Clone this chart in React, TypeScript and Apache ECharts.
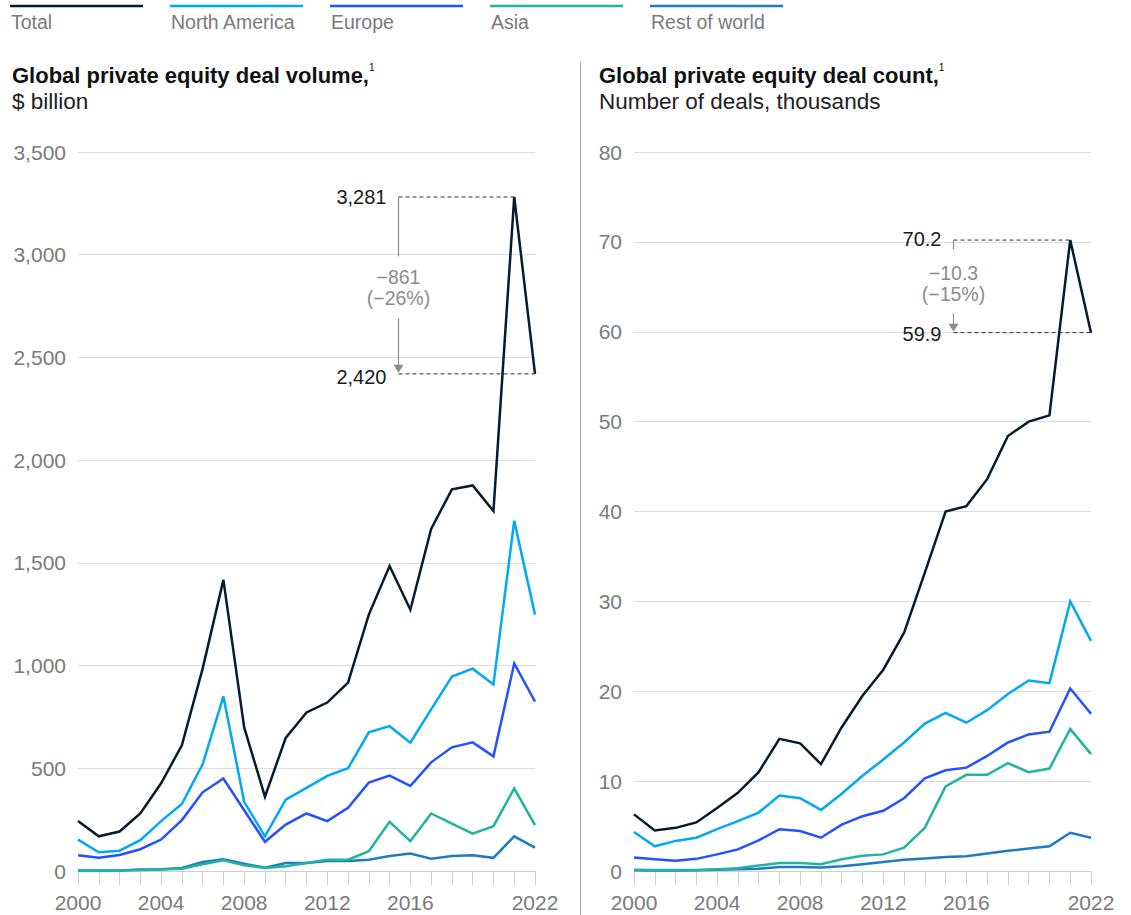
import React, { useEffect, useRef } from "react";
import * as echarts from "echarts";

const years = ["2000","2001","2002","2003","2004","2005","2006","2007","2008","2009","2010","2011","2012","2013","2014","2015","2016","2017","2018","2019","2020","2021","2022"];
const labeledYears = ["2000","2004","2008","2012","2016","2022"];
const seriesNames = ["Total","North America","Europe","Asia","Rest of world"];
const seriesColors = ["#051c2c","#00a9f4","#2251ff","#1fb3a0","#1f7bc1"];

// Deal volume, $ billion
const volTotal = [243,169,192,280,427,612,985,1417,699,362,648,772,820,917,1248,1485,1272,1665,1858,1877,1752,3281,2420];
const volNA = [153,91,99,150,243,326,519,850,337,169,347,405,463,500,675,705,625,787,947,985,908,1705,1248];
const volEurope = [77,64,78,106,153,248,383,450,296,142,226,280,243,308,430,464,414,529,602,626,558,1010,825];
const volAsia = [3,2,2,5,7,11,33,52,28,15,23,39,55,55,96,239,145,280,231,182,218,402,223];
const volRest = [3,3,3,7,8,15,44,57,36,16,39,39,49,49,55,73,85,60,73,77,64,169,114];

// Deal count, thousands
const cntTotal = [6.3,4.5,4.8,5.4,7.0,8.7,11.0,14.7,14.2,11.9,16.0,19.5,22.4,26.5,33.2,40.0,40.6,43.6,48.4,50.0,50.7,70.2,59.9];
const cntNA = [4.35,2.75,3.35,3.7,4.65,5.55,6.5,8.4,8.1,6.8,8.6,10.6,12.4,14.3,16.4,17.6,16.5,17.9,19.7,21.2,20.9,30.0,25.6];
const cntEurope = [1.5,1.3,1.15,1.35,1.85,2.4,3.4,4.65,4.45,3.7,5.15,6.1,6.7,8.1,10.3,11.2,11.5,12.8,14.3,15.2,15.5,20.3,17.5];
const cntAsia = [0.15,0.1,0.1,0.12,0.2,0.3,0.6,0.9,0.9,0.75,1.3,1.7,1.85,2.6,4.8,9.4,10.7,10.7,12.0,11.0,11.4,15.8,13.0];
const cntRest = [0.07,0.05,0.05,0.07,0.15,0.2,0.26,0.45,0.45,0.4,0.52,0.75,1.0,1.25,1.4,1.55,1.65,1.95,2.25,2.5,2.75,4.25,3.7];

const volTitle = "Global private equity deal volume,";
const volSubtitle = "$ billion";
const cntTitle = "Global private equity deal count,";
const cntSubtitle = "Number of deals, thousands";

const volAnnot = { peakIdx: 21, lastIdx: 22, peak: 3281, last: 2420, peakLabel: "3,281", lastLabel: "2,420", change: "\u2212861", pct: "(\u221226%)" };
const cntAnnot = { peakIdx: 21, lastIdx: 22, peak: 70.2, last: 59.9, peakLabel: "70.2", lastLabel: "59.9", change: "\u221210.3", pct: "(\u221215%)" };

const FONT = "'Liberation Sans', Arial, Helvetica, sans-serif";
const GRAY = "#7a7a7a";

export default function App() {
  const ref = useRef<HTMLDivElement>(null);

  useEffect(() => {
    document.body.style.margin = "0";
    const chart = echarts.init(ref.current as HTMLDivElement, null, { renderer: "svg" });

    const makeSeries = (g: number, arrays: number[][]) =>
      arrays.map((d, i) => ({
        type: "line",
        name: seriesNames[i] + (g ? " (count)" : ""),
        xAxisIndex: g,
        yAxisIndex: g,
        data: d,
        symbol: "none",
        silent: true,
        z: 10 - i,
        lineStyle: { width: 2.5, color: seriesColors[i], join: "miter" },
        itemStyle: { color: seriesColors[i] },
      }));

    const xAxis = (g: number) => ({
      type: "category",
      gridIndex: g,
      data: years,
      boundaryGap: false,
      axisLine: { lineStyle: { color: "#cfcfcf", width: 1 } },
      axisTick: { show: true, interval: 0, length: 14, lineStyle: { color: "#cfcfcf" } },
      axisLabel: {
        interval: 0,
        margin: 21,
        color: GRAY,
        fontSize: 21,
        fontFamily: FONT,
        formatter: (v: string) => (labeledYears.includes(v) ? v : ""),
      },
      splitLine: { show: false },
    });

    const yAxis = (g: number, max: number, interval: number) => ({
      type: "value",
      gridIndex: g,
      min: 0,
      max,
      interval,
      axisLine: { show: false },
      axisTick: { show: false },
      splitLine: { lineStyle: { color: "#dcdcdc", width: 1 } },
      axisLabel: {
        margin: 12,
        color: GRAY,
        fontSize: 21,
        fontFamily: FONT,
        formatter: (v: number) => v.toLocaleString("en-US"),
      },
    });

    chart.setOption({
      animation: false,
      textStyle: { fontFamily: FONT },
      grid: [
        { left: 78, right: 596, top: 152, bottom: 44 },
        { left: 634, right: 40, top: 152, bottom: 44 },
      ],
      xAxis: [xAxis(0), xAxis(1)],
      yAxis: [yAxis(0, 3500, 500), yAxis(1, 80, 10)],
      series: [
        ...makeSeries(0, [volRest, volAsia, volEurope, volNA, volTotal].reverse()),
        ...makeSeries(1, [cntRest, cntAsia, cntEurope, cntNA, cntTotal].reverse()),
      ],
    });

    const px = (g: number, x: number, y: number) =>
      chart.convertToPixel({ gridIndex: g } as any, [x, y]) as number[];

    const graphics: any[] = [];

    // legend
    seriesNames.forEach((n, i) => {
      const x0 = 10 + 160 * i;
      graphics.push({
        type: "line",
        shape: { x1: x0, y1: 6, x2: x0 + 133, y2: 6 },
        style: { stroke: seriesColors[i], lineWidth: 2.5 },
        silent: true,
      });
      graphics.push({
        type: "text",
        x: x0 + 1,
        y: 22,
        style: { text: n, fill: GRAY, fontSize: 19.5, fontFamily: FONT, verticalAlign: "middle" },
        silent: true,
      });
    });

    // separator
    graphics.push({
      type: "line",
      shape: { x1: 580.5, y1: 62, x2: 580.5, y2: 915 },
      style: { stroke: "#a8a8a8", lineWidth: 1 },
      silent: true,
    });

    // titles
    const addTitle = (x: number, title: string, sub: string) => {
      graphics.push({
        type: "text",
        x,
        y: 74,
        style: {
          text: "{b|" + title + "}{s|1}",
          verticalAlign: "middle",
          fontFamily: FONT,
          rich: {
            b: { fontSize: 22, fontWeight: "bold", fill: "#111", fontFamily: FONT, lineHeight: 24, verticalAlign: "bottom" },
            s: { fontSize: 10, fill: "#111", fontFamily: FONT, lineHeight: 24, verticalAlign: "top" },
          },
        },
        silent: true,
      });
      graphics.push({
        type: "text",
        x,
        y: 101,
        style: { text: sub, fontSize: 22.5, fill: "#222", fontFamily: FONT, verticalAlign: "middle" },
        silent: true,
      });
    };
    addTitle(12, volTitle, volSubtitle);
    addTitle(599, cntTitle, cntSubtitle);

    // annotations
    const addAnnot = (g: number, a: any, offset: number, cfg: any) => {
      const [xPk, yTop] = px(g, a.peakIdx, a.peak);
      const [xEnd, yBot] = px(g, a.lastIdx, a.last);
      const ax = Math.round(xPk - offset) + 0.5;
      const mid = (yTop + yBot) / 2;
      const dash = { stroke: "#333", lineWidth: 1, lineDash: [4, 3] };
      const solid = { stroke: "#8c8c8c", lineWidth: 1.2 };
      graphics.push({ type: "line", shape: { x1: ax, y1: yTop, x2: xPk, y2: yTop }, style: dash, silent: true });
      graphics.push({ type: "line", shape: { x1: ax, y1: yBot, x2: xEnd, y2: yBot }, style: dash, silent: true });
      graphics.push({
        type: "text", x: ax - 12, y: yTop + cfg.topLblDy,
        style: { text: a.peakLabel, fill: "#1a1a1a", fontSize: 20, fontFamily: FONT, align: "right", verticalAlign: "middle" }, silent: true,
      });
      graphics.push({
        type: "text", x: ax - 12, y: yBot + cfg.botLblDy,
        style: { text: a.lastLabel, fill: "#1a1a1a", fontSize: 20, fontFamily: FONT, align: "right", verticalAlign: "middle" }, silent: true,
      });
      graphics.push({ type: "line", shape: { x1: ax, y1: yTop, x2: ax, y2: mid + cfg.upEnd }, style: solid, silent: true });
      graphics.push({
        type: "text", x: ax, y: mid + cfg.t1,
        style: { text: a.change, fill: "#8c8c8c", fontSize: 19.5, fontFamily: FONT, align: "center", verticalAlign: "middle" }, silent: true,
      });
      graphics.push({
        type: "text", x: ax, y: mid + cfg.t2,
        style: { text: a.pct, fill: "#8c8c8c", fontSize: 19.5, fontFamily: FONT, align: "center", verticalAlign: "middle" }, silent: true,
      });
      graphics.push({ type: "line", shape: { x1: ax, y1: mid + cfg.lowStart, x2: ax, y2: yBot - 8 }, style: solid, silent: true });
      graphics.push({
        type: "polygon",
        shape: { points: [[ax - 5, yBot - 9], [ax + 5, yBot - 9], [ax, yBot - 1]] },
        style: { fill: "#8c8c8c" },
        silent: true,
      });
    };
    addAnnot(0, volAnnot, 116, { topLblDy: 0, botLblDy: 3, upEnd: -29, t1: -8, t2: 13, lowStart: 33 });
    addAnnot(1, cntAnnot, 117, { topLblDy: -1, botLblDy: 1, upEnd: -37, t1: -13, t2: 8, lowStart: 27 });

    chart.setOption({ graphic: graphics });

    return () => chart.dispose();
  }, []);

  return <div ref={ref} style={{ width: 1131, height: 915 }} />;
}
